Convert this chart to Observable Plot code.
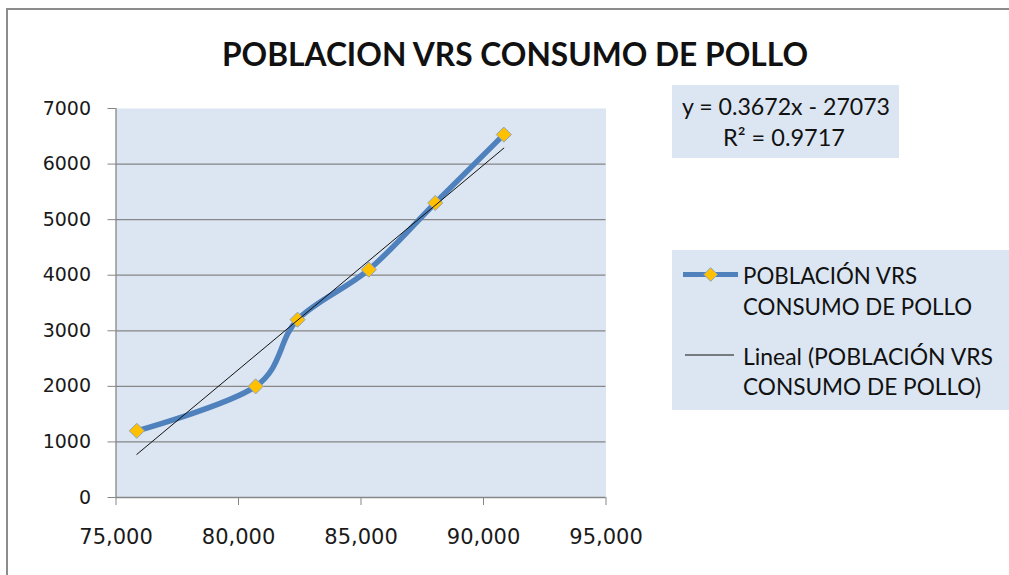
<!DOCTYPE html>
<html>
<head>
<meta charset="utf-8">
<script src="https://cdn.jsdelivr.net/npm/d3@7"></script>
<script src="https://cdn.jsdelivr.net/npm/@observablehq/plot@0.6"></script>
<style>
html, body { margin: 0; padding: 0; background: #fff; }
#wrap { position: relative; width: 1009px; height: 575px; overflow: hidden; background: #fff; }
#wrap svg { position: absolute; left: 0; top: 0; }
</style>
</head>
<body>
<div id="wrap"></div>
<script>
// ---- data ----
const poblacion = [75850, 80700, 82410, 85320, 88030, 90830];
const consumo   = [1200, 2000, 3200, 4100, 5300, 6530];
const xTicks = [75000, 80000, 85000, 90000, 95000];
const yTicks = [0, 1000, 2000, 3000, 4000, 5000, 6000, 7000];
const gridValues = [1000, 2000, 3000, 4000, 5000, 6000];
const titleText = "POBLACION VRS CONSUMO DE POLLO";
const seriesLabel = ["POBLACIÓN VRS", "CONSUMO DE POLLO"];
const trendLabel = ["Lineal (POBLACIÓN VRS", "CONSUMO DE POLLO)"];
const equationText = ["y = 0.3672x - 27073", "R² = 0.9717"];

const data = poblacion.map((x, i) => ({x, y: consumo[i]}));

const BG = "#DCE6F2";
const GRID = "#868686";
const BLUE = "#4F81BD";
const GOLD = "#FFC000";
const MARK_STROKE = "#8EA4BF";

const chart = Plot.plot({
  width: 1009,
  height: 575,
  marginLeft: 115.5,
  marginRight: 403.5,
  marginTop: 108,
  marginBottom: 78,
  x: {domain: [75000, 95000]},
  y: {domain: [0, 7000]},
  style: {background: "transparent", fontFamily: "'DejaVu Sans', Verdana, sans-serif", color: "#1a1a1a"},
  marks: [
    Plot.frame({fill: BG, stroke: "none"}),
    Plot.ruleY(gridValues, {stroke: GRID, strokeWidth: 1.3}),
    Plot.ruleY([0], {stroke: GRID, strokeWidth: 1.3}),
    Plot.ruleX([75000], {stroke: GRID, strokeWidth: 1.3}),
    Plot.line(data, {x: "x", y: "y", curve: "cardinal", stroke: BLUE, strokeWidth: 5.5, strokeLinecap: "round"}),
    Plot.dot(data, {x: "x", y: "y", symbol: "diamond2", r: 6.8, fill: GOLD, stroke: MARK_STROKE, strokeWidth: 1}),
    Plot.linearRegressionY(data, {x: "x", y: "y", stroke: "#111", strokeWidth: 1, ci: 0}),
    Plot.axisX({ticks: xTicks, tickFormat: d3.format(","), tickSize: 8, tickPadding: 24, fontSize: 21,
                stroke: GRID, fill: "#1a1a1a", label: null, anchor: "bottom"}),
    Plot.axisY({ticks: yTicks, tickFormat: d3.format("d"), tickSize: 8, tickPadding: 17, fontSize: 19,
                stroke: GRID, fill: "#1a1a1a", label: null, anchor: "left"})
  ]
});

const wrap = document.getElementById("wrap");
wrap.appendChild(chart);

// ---- overlay: border, title, equation box, legend ----
const ov = d3.create("svg").attr("width", 1009).attr("height", 575)
  .style("pointer-events", "none");
const FONT = "Lato, 'Open Sans', sans-serif";

ov.append("line").attr("x1", 6).attr("y1", 9).attr("x2", 1009).attr("y2", 9)
  .attr("stroke", "#8c8c8c").attr("stroke-width", 2);
ov.append("line").attr("x1", 7).attr("y1", 8).attr("x2", 7).attr("y2", 575)
  .attr("stroke", "#8c8c8c").attr("stroke-width", 2);

function txt(s, x, y, len, opts = {}) {
  return ov.append("text").attr("x", x).attr("y", y)
    .attr("font-family", FONT)
    .attr("font-size", opts.size || 24)
    .attr("font-weight", opts.weight || 400)
    .attr("text-anchor", opts.anchor || "start")
    .attr("fill", "#111")
    .attr("textLength", len).attr("lengthAdjust", "spacingAndGlyphs")
    .text(s);
}

txt(titleText, 515, 66, 586, {size: 33, weight: 700, anchor: "middle"});

// equation box
ov.append("rect").attr("x", 672).attr("y", 85).attr("width", 227).attr("height", 73).attr("fill", BG);
txt(equationText[0], 786, 115, 208, {anchor: "middle"});
txt(equationText[1], 784, 146, 122, {anchor: "middle"});

// legend box
ov.append("rect").attr("x", 672).attr("y", 250).attr("width", 337).attr("height", 160).attr("fill", BG);
ov.append("line").attr("x1", 683).attr("y1", 274.5).attr("x2", 738).attr("y2", 274.5)
  .attr("stroke", BLUE).attr("stroke-width", 5);
ov.append("path").attr("d", d3.symbol(d3.symbolDiamond2, 120)())
  .attr("transform", "translate(710.7,274.5)")
  .attr("fill", GOLD).attr("stroke", MARK_STROKE).attr("stroke-width", 1);
txt(seriesLabel[0], 743, 283.5, 174);
txt(seriesLabel[1], 743, 314.5, 229);
ov.append("line").attr("x1", 685).attr("y1", 355).attr("x2", 734).attr("y2", 355)
  .attr("stroke", "#111").attr("stroke-width", 1.2);
txt(trendLabel[0], 743, 365, 250);
txt(trendLabel[1], 743, 395, 238);

wrap.appendChild(ov.node());
</script>
</body>
</html>
